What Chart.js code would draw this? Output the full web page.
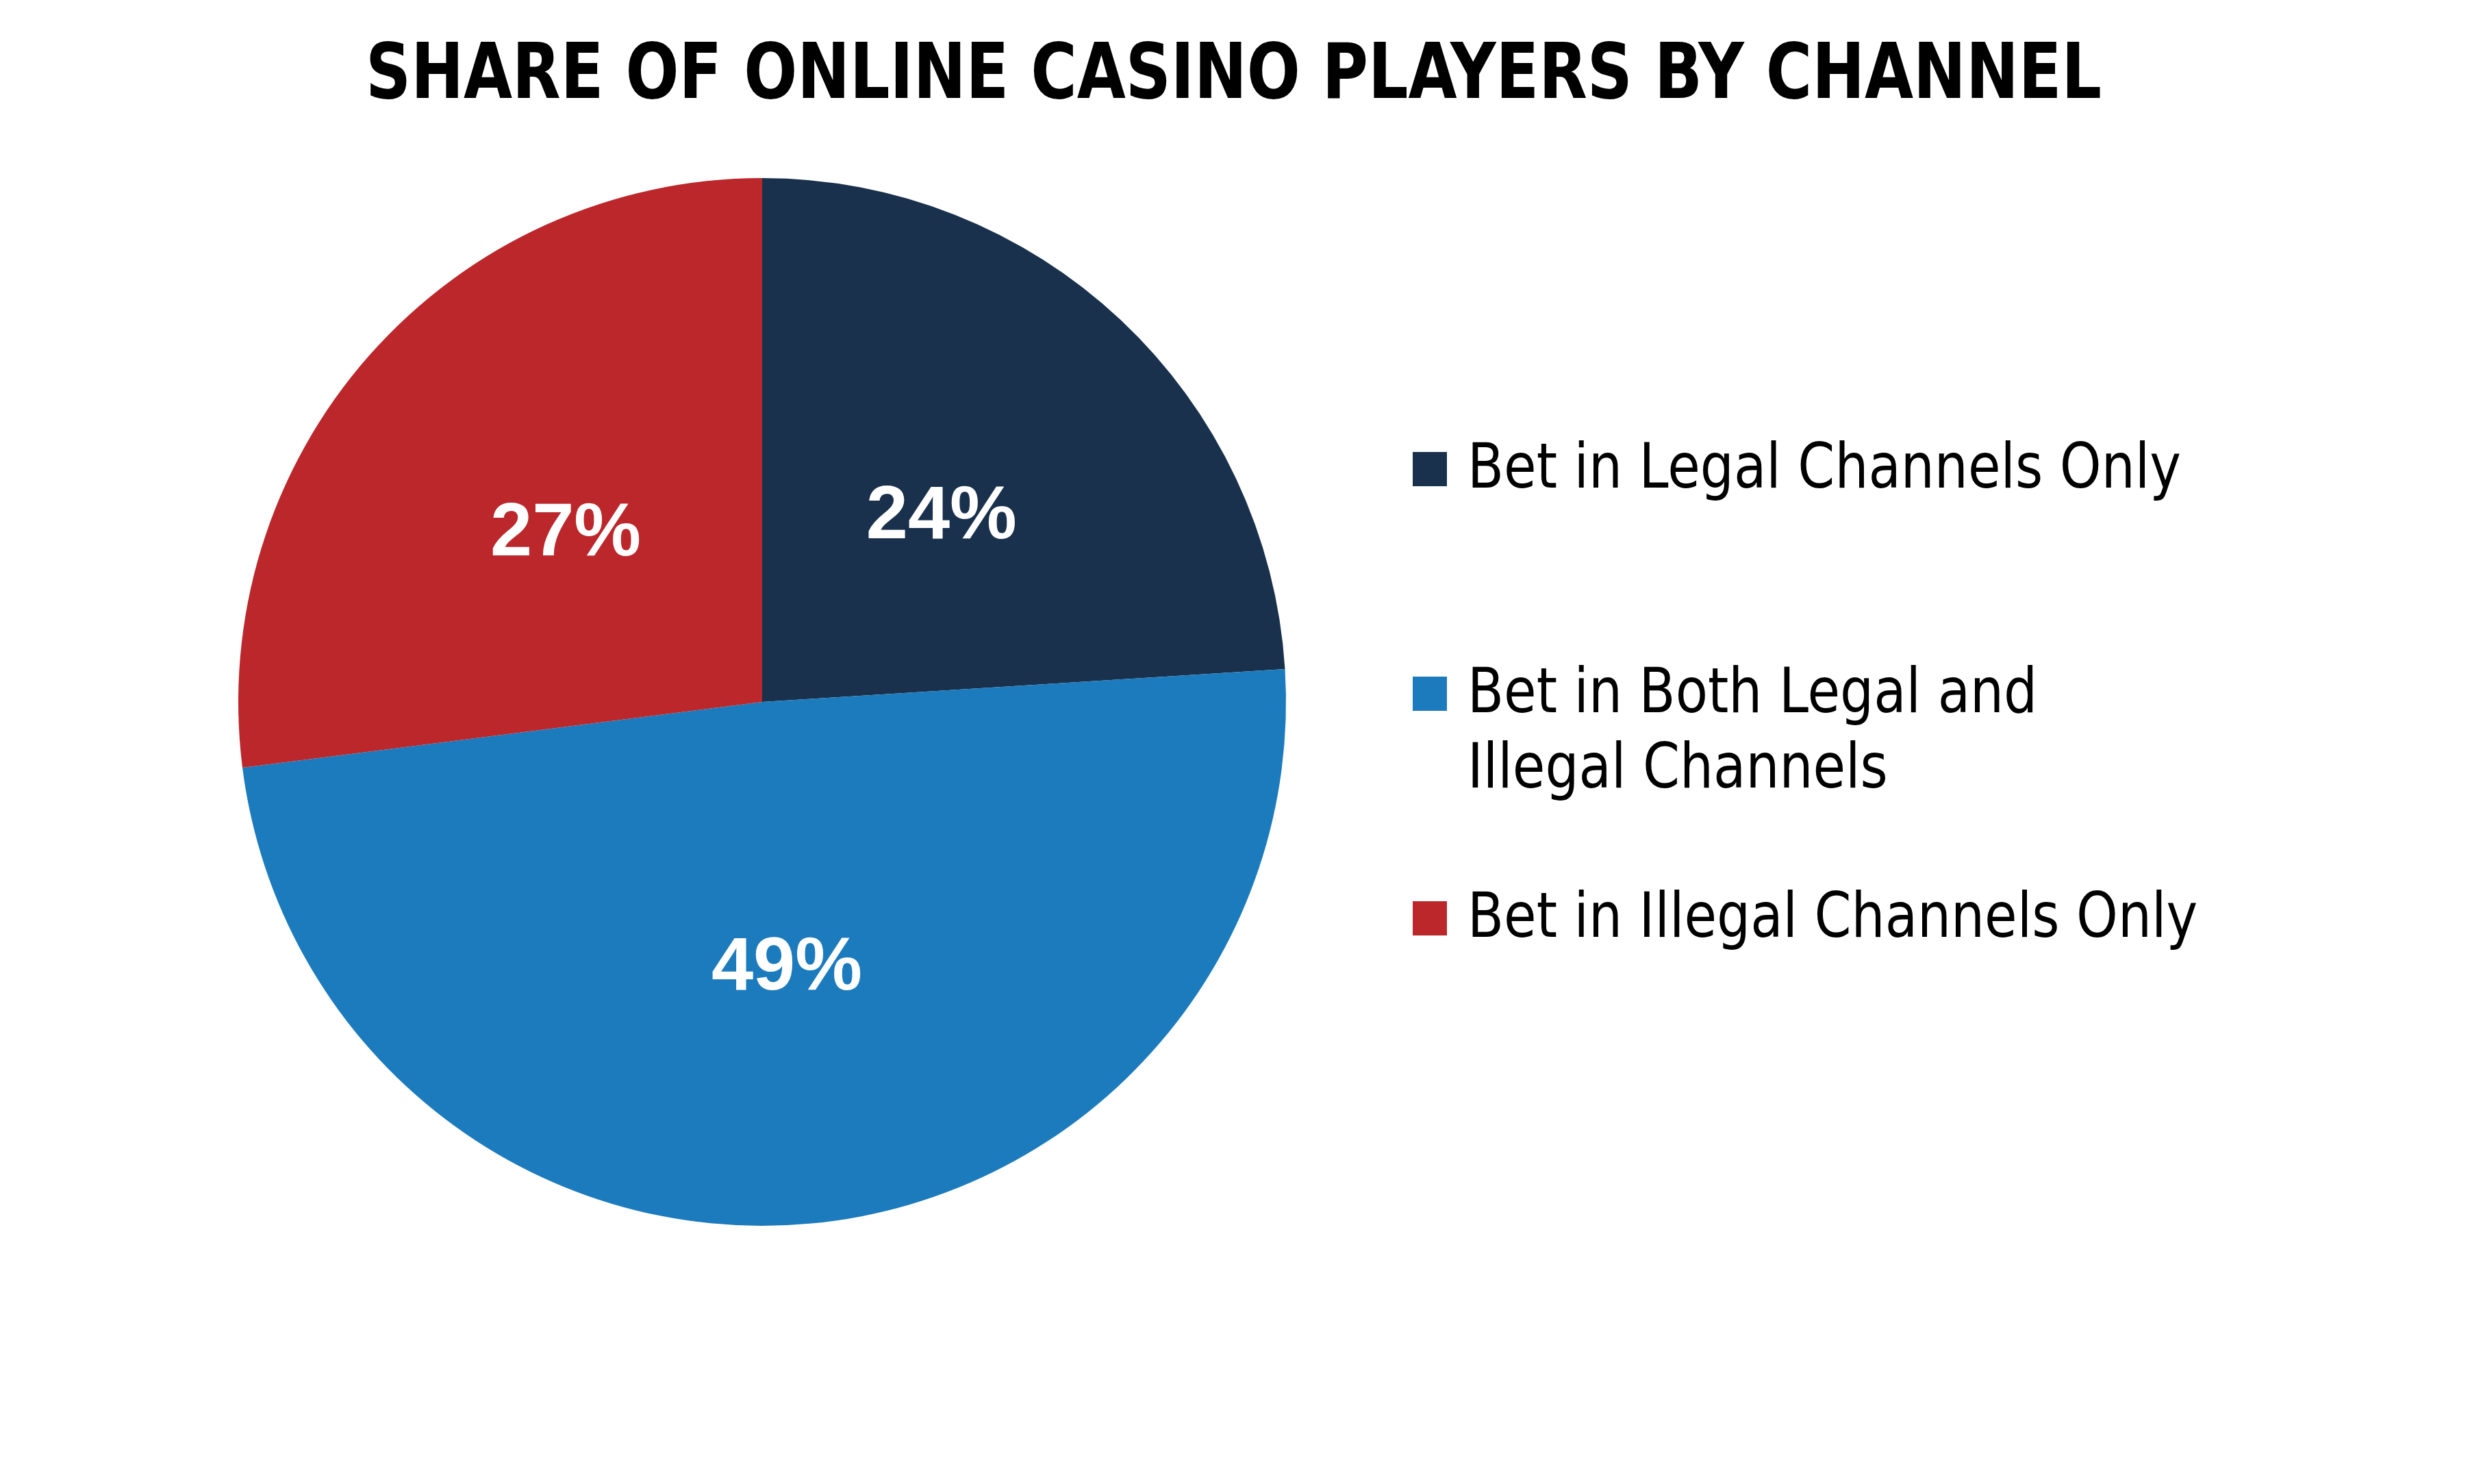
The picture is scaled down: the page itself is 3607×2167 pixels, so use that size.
<!DOCTYPE html>
<html>
<head>
<meta charset="utf-8">
<script src="https://cdn.jsdelivr.net/npm/chart.js@4.4.1/dist/chart.umd.min.js"></script>
<style>
  html, body { margin: 0; padding: 0; background: #ffffff; }
  #wrap { position: relative; width: 3607px; height: 2167px; overflow: hidden; background: #ffffff; }
  #pie { position: absolute; left: 0; top: 0; }
  .txt { position: absolute; white-space: nowrap; color: #000000; transform-origin: 0 0; }
  .box { position: absolute; width: 50px; height: 50px; }
</style>
</head>
<body>
<div id="wrap">
  <canvas id="pie" width="3607" height="2167"></canvas>
</div>
<script>
// chart data
const titleText = 'SHARE OF ONLINE CASINO PLAYERS BY CHANNEL';
const categories = ['Bet in Legal Channels Only', 'Bet in Both Legal and Illegal Channels', 'Bet in Illegal Channels Only'];
const legendLines = [
    ['Bet in Legal Channels Only'],
    ['Bet in Both Legal and', 'Illegal Channels'],
    ['Bet in Illegal Channels Only']
];
const shares = [24, 49, 27];
const sliceColors = ['#19314c', '#1c7bbd', '#bb272b'];

const TITLE_FONT = '"Liberation Sans Narrow", "DejaVu Sans Condensed", Roboto, sans-serif';
const LEGEND_FONT = '"Liberation Sans Narrow", "DejaVu Sans Condensed", Roboto, sans-serif';
const LABEL_FONT = '"Liberation Sans", Arial, sans-serif';

const wrap = document.getElementById('wrap');
const measureCtx = document.createElement('canvas').getContext('2d');

// put a line of text so its baseline sits at baselineY, squeezed to targetWidth
function placeText(text, font, x, baselineY, scaleX) {
    measureCtx.font = font;
    const m = measureCtx.measureText(text);
    const asc = m.fontBoundingBoxAscent;
    const desc = m.fontBoundingBoxDescent;
    const lineH = Math.ceil(asc + desc);
    const el = document.createElement('div');
    el.className = 'txt';
    el.style.font = font;
    el.style.lineHeight = lineH + 'px';
    el.style.left = x + 'px';
    el.style.top = (baselineY - asc - (lineH - asc - desc) / 2) + 'px';
    el.style.transform = 'scaleX(' + scaleX + ')';
    el.textContent = text;
    wrap.appendChild(el);
    return m.width;
}

function widthOf(text, font) {
    measureCtx.font = font;
    return measureCtx.measureText(text).width;
}

// title
const titleFont = 'bold 113px ' + TITLE_FONT;
const titleScale = 2535 / widthOf(titleText, titleFont);
placeText(titleText, titleFont, 1801 - 2535 / 2, 143, titleScale);

// legend
const legendFont = '91px ' + LEGEND_FONT;
const legendScale = 1042 / widthOf(legendLines[0][0], legendFont);
const legendTop = [712, 1040, 1368];
legendLines.forEach((lines, i) => {
    const box = document.createElement('div');
    box.className = 'box';
    box.style.left = '2063px';
    box.style.top = (legendTop[i] - 52) + 'px';
    box.style.background = sliceColors[i];
    wrap.appendChild(box);
    lines.forEach((line, j) => {
        placeText(line, legendFont, 2143, legendTop[i] + j * 110, legendScale);
    });
});

// percentage labels inside the slices
const sliceLabels = {
    id: 'sliceLabels',
    afterDatasetsDraw(chart) {
        const ctx = chart.ctx;
        const meta = chart.getDatasetMeta(0);
        const size = 110;
        ctx.save();
        ctx.fillStyle = '#ffffff';
        ctx.font = 'bold ' + size + 'px ' + LABEL_FONT;
        ctx.textAlign = 'center';
        ctx.textBaseline = 'alphabetic';
        meta.data.forEach((arc, i) => {
            const p = arc.getProps(['x', 'y', 'startAngle', 'endAngle', 'outerRadius'], true);
            const mid = (p.startAngle + p.endAngle) / 2;
            const r = p.outerRadius * 0.5;
            const cx = p.x + Math.cos(mid) * r;
            const cy = p.y + Math.sin(mid) * r;
            ctx.fillText(shares[i] + '%', cx, cy + size * 0.716 / 2);
        });
        ctx.restore();
    }
};

new Chart(document.getElementById('pie'), {
    type: 'pie',
    data: {
        labels: categories,
        datasets: [{
            data: shares,
            backgroundColor: sliceColors,
            borderWidth: 0
        }]
    },
    options: {
        responsive: false,
        animation: false,
        devicePixelRatio: 1,
        layout: {
            padding: { left: 348, right: 1729, top: 260, bottom: 377 }
        },
        plugins: {
            legend: { display: false },
            tooltip: { enabled: false },
            title: { display: false }
        }
    },
    plugins: [sliceLabels]
});
</script>
</body>
</html>
